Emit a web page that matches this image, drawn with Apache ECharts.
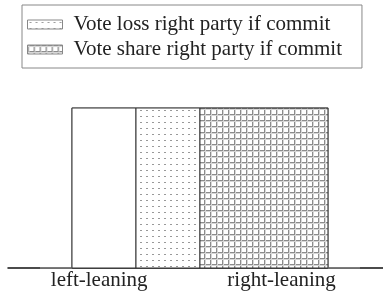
<!DOCTYPE html>
<html>
<head>
<meta charset="utf-8">
<script src="https://cdn.jsdelivr.net/npm/echarts@6/dist/echarts.min.js"></script>
<style>
  html, body { margin: 0; padding: 0; background: #fff; }
  #main { width: 383px; height: 301px; }
</style>
</head>
<body>
<div id="main"></div>
<script>
// voter density (uniform) and the three shaded pieces
var outlineX = [0, 0.1, 0.1, 0.9, 0.9, 1]
var outlineY = [0, 0, 1.25, 1.25, 0, 0]
var pieceNames = ['base', 'Vote loss right party if commit', 'Vote share right party if commit']
var pieceStart = [0.1, 0.3, 0.5]
var pieceEnd = [0.3, 0.5, 0.9]
var pieceHeight = [1.25, 1.25, 1.25]
var tickPos = [0.185, 0.755]
var tickLabels = ['left-leaning', 'right-leaning']

var font = '"Liberation Serif", "DejaVu Serif", serif'

// small tiles used as fill patterns
function makePattern(kind) {
  var c = document.createElement('canvas')
  c.width = 6
  c.height = 6
  var ctx = c.getContext('2d')
  ctx.fillStyle = '#fff'
  ctx.fillRect(0, 0, 6, 6)
  if (kind === 'dots') {
    ctx.fillStyle = '#999'
    ctx.fillRect(2, 2, 2, 1)
  } else if (kind === 'grid') {
    ctx.fillStyle = '#8c8c8c'
    ctx.fillRect(0, 0, 6, 1)
    ctx.fillRect(0, 0, 1, 6)
    ctx.fillStyle = '#d6d6d6'
    ctx.fillRect(0, 1, 6, 1)
    ctx.fillRect(1, 0, 1, 6)
  }
  return { image: c, repeat: 'repeat' }
}
var fills = ['#fff', makePattern('dots'), makePattern('grid')]

function renderPiece(params, api) {
  var p0 = api.coord([api.value(0), api.value(2)])
  var p1 = api.coord([api.value(1), 0])
  return {
    type: 'rect',
    shape: { x: p0[0], y: p0[1], width: p1[0] - p0[0], height: p1[1] - p0[1] },
    style: api.style({ stroke: '#333', lineWidth: 1 })
  }
}

var series = []
for (var i = 0; i < pieceNames.length; i++) {
  series.push({
    name: pieceNames[i],
    type: 'custom',
    renderItem: renderPiece,
    itemStyle: { color: fills[i] },
    data: [[pieceStart[i], pieceEnd[i], pieceHeight[i]]],
    z: 3,
    silent: true
  })
}
var outline = []
for (var j = 0; j < outlineX.length; j++) {
  outline.push([outlineX[j], outlineY[j]])
}
series.push({
  name: 'density',
  type: 'line',
  data: outline,
  symbol: 'none',
  lineStyle: { color: '#8c8c8c', width: 1.5 },
  z: 2,
  silent: true
})

var chart = echarts.init(document.getElementById('main'))
chart.setOption({
  animation: false,
  backgroundColor: '#fff',
  legend: {
    data: [pieceNames[1], pieceNames[2]],
    icon: 'rect',
    orient: 'vertical',
    left: 22,
    top: 5,
    padding: [9, 20, 8, 5],
    itemWidth: 35,
    itemHeight: 9,
    itemGap: 4,
    borderColor: '#888',
    borderWidth: 1,
    itemStyle: { borderColor: '#888', borderWidth: 1 },
    textStyle: { fontFamily: font, fontSize: 21, color: '#222', padding: [0, 0, 0, 6] }
  },
  grid: { left: 8, right: 0, top: 108, bottom: 33 },
  xAxis: {
    type: 'value',
    min: -0.1,
    max: 1.072,
    axisLine: { lineStyle: { color: '#111', width: 1.5 } },
    axisTick: { show: false },
    splitLine: { show: false },
    axisLabel: {
      customValues: tickPos,
      formatter: function(v) {
        var k = tickPos.indexOf(v)
        return k >= 0 ? tickLabels[k] : ''
      },
      margin: 2,
      fontFamily: font,
      fontSize: 21,
      color: '#222'
    }
  },
  yAxis: {
    type: 'value',
    min: 0,
    max: 1.25,
    show: false
  },
  series: series
})
</script>
</body>
</html>
